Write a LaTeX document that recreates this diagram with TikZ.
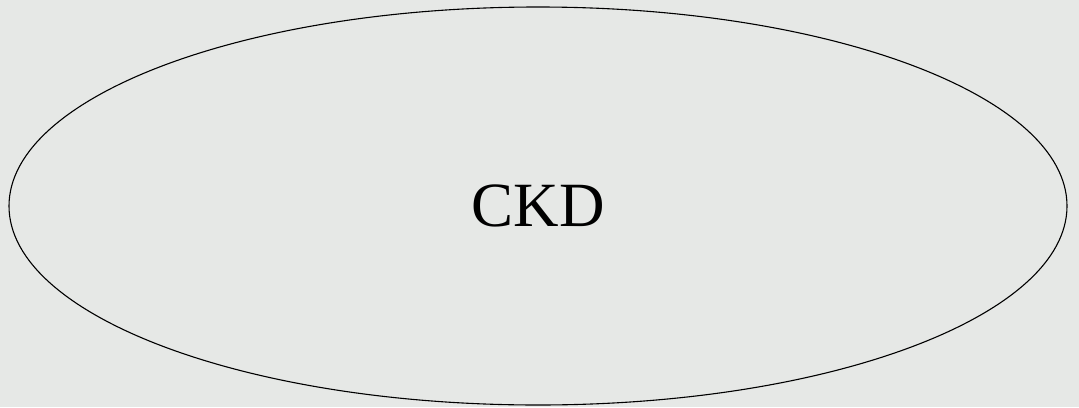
\documentclass[tikz,border=0pt]{standalone}
\usepackage{fontspec}
\setmainfont{Liberation Serif}
\usetikzlibrary{shapes.geometric}
\definecolor{bg}{HTML}{E6E8E6}
\tikzset{ell/.style={ellipse, draw=black, line width=1.1pt, minimum width=1058pt, minimum height=398pt, inner sep=0pt, font=\fontsize{63}{70}\selectfont}}
\begin{document}
\begin{tikzpicture}[x=1pt,y=-1pt]
\fill[bg] (0,0) rectangle (1079,407);
\useasboundingbox (0,0) rectangle (1079,407);
\node[ell] (ckd) at (538,206) {CKD};
\end{tikzpicture}
\end{document}
